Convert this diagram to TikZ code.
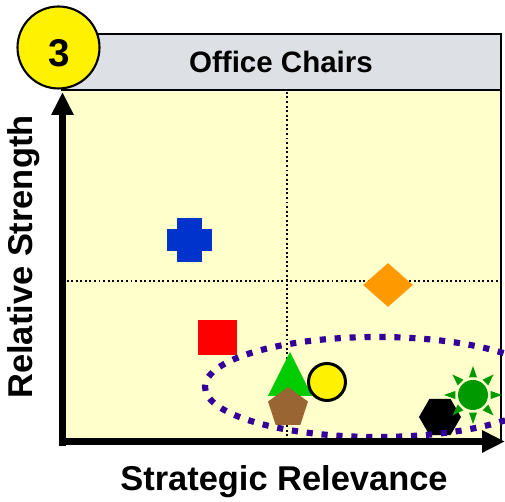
\documentclass[tikz,border=0pt]{standalone}
\usepackage{fontspec}
\setmainfont{Liberation Sans}
\usetikzlibrary{arrows.meta, positioning, shapes.geometric}
\definecolor{plotbg}{HTML}{FFFFCC}
\definecolor{headbg}{RGB}{221,224,229}
\definecolor{crossblue}{HTML}{0033CC}
\definecolor{diamorange}{HTML}{FF9900}
\definecolor{trigreen}{HTML}{00CC00}
\definecolor{pentbrown}{HTML}{996633}
\definecolor{sungreen}{HTML}{009900}
\definecolor{ringpurple}{HTML}{330099}

\begin{document}
\begin{tikzpicture}[x=0.02cm, y=0.02cm,
	axis/.style={line width=4.2pt, -{Triangle[length=0.46cm, width=0.42cm]}},
	gridline/.style={line width=1.1pt, dash pattern=on 1.1pt off 1.5pt},
	labeltext/.style={font=\fontsize{19.6}{23}\selectfont\bfseries},
	marker/.style={draw=none, inner sep=0pt}]
	
	\useasboundingbox (0, 0) rectangle (505, 502);
	
	% plot area and header
	\fill[plotbg] (62, 61) rectangle (501, 412);
	\draw[line width=0.8pt] (501, 61) -- (501, 412);
	\draw[line width=0.8pt, fill=headbg] (62, 412) rectangle (501, 468);
	\node[font=\fontsize{16.8}{20}\selectfont\bfseries] (title) at (281, 440) {Office Chairs};
	
	% quadrant lines
	\draw[gridline] (287, 61) -- (287, 412);
	\draw[gridline] (62, 221) -- (501, 221);
	
	% blue cross
	\fill[crossblue] (177, 240) rectangle (202, 284);
	\fill[crossblue] (167, 251) rectangle (212, 273);
	
	% orange diamond
	\node[marker, diamond, fill=diamorange, minimum width=1cm, minimum height=0.88cm] (orange) at (388, 217) {};
	
	% red square
	\fill[red] (198, 147) rectangle (237, 182);
	
	% green triangle
	\fill[trigreen] (268, 106) -- (312, 106) -- (290, 150) -- cycle;
	
	% brown pentagon
	\node[marker, regular polygon, regular polygon sides=5, fill=pentbrown, minimum size=0.84cm] (pentagon) at (288, 94) {};
	
	% yellow circle
	\node[circle, draw, line width=1.7pt, fill=yellow, minimum size=0.74cm, inner sep=0pt] (dot) at (327, 120) {};
	
	% black hexagon
	\node[marker, regular polygon, regular polygon sides=6, fill=black, minimum size=0.84cm] (hexagon) at (440, 85) {};
	
	% green sun
	\fill[sungreen] (473, 107) circle (15);
	\foreach \a in {0, 45, ..., 315}
		\fill[sungreen, shift={(473, 107)}] ({\a-13}:18) -- (\a:29) -- ({\a+13}:18) -- cycle;
	
	% group ring
	\begin{scope}
		\clip (0, 0) rectangle (505, 502);
		\draw[ringpurple, line width=3.5pt, dash pattern=on 3.5pt off 5pt] (377, 115) ellipse (172 and 50);
	\end{scope}
	
	% axes
	\draw[axis] (62.5, 56) -- (62.5, 410);
	\draw[axis] (59, 60.5) -- (505, 60.5);
	\node[labeltext] (xlabel) at (284, 20) {Strategic Relevance};
	\node[labeltext, rotate=90] (ylabel) at (24, 245) {Relative Strength};
	
	% number badge
	\node[circle, draw, line width=1.2pt, fill=yellow, minimum size=1.64cm, inner sep=0pt] (badge) at (58.5, 454.5) {};
	\node[font=\fontsize{22}{26}\selectfont\bfseries] (badgenum) at (59, 448.5) {3};
	
\end{tikzpicture}
\end{document}
